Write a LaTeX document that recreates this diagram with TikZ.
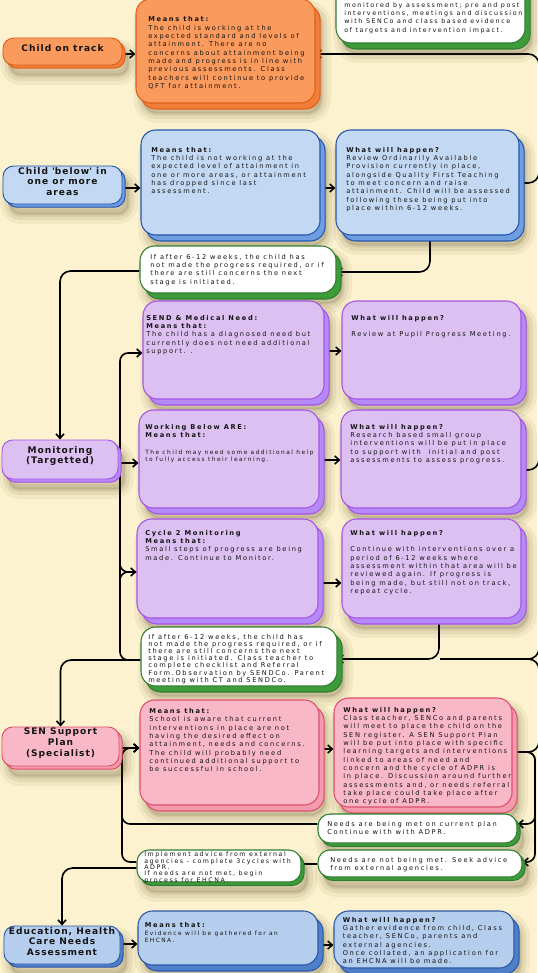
\documentclass[tikz,border=0pt]{standalone}
\usepackage{fontspec}
\usepackage{tikz}
\usetikzlibrary{fit,shadows,arrows.meta}
\newfontfamily\bodyfont[LetterSpace=25]{DejaVu Sans}
\newfontfamily\headfont[LetterSpace=11]{DejaVu Sans}
\newcommand\smalltext{\fontsize{4.4}{5.4}\selectfont}
\definecolor{paper}{HTML}{FCF2CF}
\definecolor{ink}{HTML}{141414}
\definecolor{orfill}{HTML}{FB9A5D}
\definecolor{orline}{HTML}{E0601A}
\definecolor{ordeep}{HTML}{F07E38}
\definecolor{blfill}{HTML}{C3D8F3}
\definecolor{blline}{HTML}{2455AC}
\definecolor{bldeep}{HTML}{6E9DE2}
\definecolor{pufill}{HTML}{DDC0F2}
\definecolor{puline}{HTML}{A552E6}
\definecolor{pudeep}{HTML}{B48AF8}
\definecolor{pkfill}{HTML}{F8B8C8}
\definecolor{pkline}{HTML}{DC4F6C}
\definecolor{pkdeep}{HTML}{F39AAD}
\definecolor{bbfill}{HTML}{B6CEED}
\definecolor{bbline}{HTML}{2A57A6}
\definecolor{bbdeep}{HTML}{4F7FC9}
\definecolor{ntline}{HTML}{2F7D2F}
\definecolor{ntdeep}{HTML}{3D9B3A}
\definecolor{dusk}{HTML}{4A3A10}
\pgfdeclarelayer{back}
\pgfdeclarelayer{wires}
\pgfsetlayers{back,wires,main}

\begin{document}
\begin{tikzpicture}[x=0.75pt,y=-0.75pt,line join=round,
  soft/.style={
    general shadow={shadow xshift=5pt, shadow yshift=-8pt, draw=dusk, fill=dusk, line width=14pt, draw opacity=.06, fill opacity=.15},
    general shadow={shadow xshift=5pt, shadow yshift=-8pt, draw=dusk, line width=8pt, draw opacity=.08},
    general shadow={shadow xshift=5pt, shadow yshift=-8pt, draw=dusk, line width=3pt, draw opacity=.09}},
  bigbox/.style n args={3}{inner sep=0pt, rounded corners=11pt, line width=0.8pt, fill=#1, draw=#2, soft,
    copy shadow={shadow xshift=3.8pt, shadow yshift=-4.5pt, fill=#3, draw=#2, opacity=1}},
  tagbox/.style n args={3}{inner sep=0pt, rounded corners=8pt, line width=0.7pt, fill=#1, draw=#2, soft,
    copy shadow={shadow xshift=2.3pt, shadow yshift=-2.4pt, fill=#3, draw=#2, opacity=1},
    text=ink, align=center, font={\headfont\bfseries\fontsize{6.8}{8}\selectfont}},
  notebox/.style={inner sep=0pt, rounded corners=11pt, line width=0.8pt, fill=white, draw=ntline, soft,
    copy shadow={shadow xshift=3.8pt, shadow yshift=-4.5pt, fill=ntdeep, draw=ntline, opacity=1}},
  slipbox/.style={inner sep=0pt, rounded corners=9pt, line width=0.8pt, fill=white, draw=ntline, soft,
    copy shadow={shadow xshift=2.3pt, shadow yshift=-2.6pt, fill=ntdeep, draw=ntline, opacity=1}},
  txt/.style={anchor=north west, inner sep=0pt, align=left, text=ink, font={\bodyfont\fontsize{5}{6.25}\selectfont}},
  wire/.style={line width=1.2pt},
  arr/.style={line width=1.2pt, -{Straight Barb[length=3.4pt,width=6pt]}}]
\useasboundingbox (0,0) rectangle (537,973);
\begin{pgfonlayer}{back}
\fill[paper] (0,0) rectangle (537,973);
\end{pgfonlayer}

% Rounded Rect
\node[notebox, fit={(336,-30) (525,43)}] (oldnote) {};
\node[tagbox={orfill}{orline}{ordeep}, fit={(3,38) (122,65)}] (ontrack) {Child on track};
\node[bigbox={orfill}{orline}{ordeep}, fit={(136,-1) (315,103)}] (ontrackwhy) {};
% Rounded Rect
\node[tagbox={blfill}{blline}{bldeep}, fit={(3,166) (122,204)}] (below) {Child \textquotesingle below\textquotesingle\ in\\one or more\\areas};
\node[bigbox={blfill}{blline}{bldeep}, fit={(141,130) (320,235)}] (belowwhy) {};
\node[bigbox={blfill}{blline}{bldeep}, fit={(336,130) (519,235)}] (belowdo) {};
\node[notebox, fit={(140,246) (336,293)}] (review1) {};
% Rounded Rect
\node[tagbox={pufill}{puline}{pudeep}, fit={(2,440) (118,479)}] (monitor) {Monitoring\\(Targetted)};
\node[bigbox={pufill}{puline}{pudeep}, fit={(143,301) (324,399)}] (sendwhy) {};
\node[bigbox={pufill}{puline}{pudeep}, fit={(342,301) (521,399)}] (senddo) {};
\node[bigbox={pufill}{puline}{pudeep}, fit={(139,410) (319,508)}] (arewhy) {};
\node[bigbox={pufill}{puline}{pudeep}, fit={(341,410) (521,508)}] (aredo) {};
\node[bigbox={pufill}{puline}{pudeep}, fit={(137,519) (318,618)}] (cyclewhy) {};
\node[bigbox={pufill}{puline}{pudeep}, fit={(342,519) (521,618)}] (cycledo) {};
\node[notebox, fit={(141,627) (337,686)}] (review2) {};
% Rounded Rect
\node[tagbox={pkfill}{pkline}{pkdeep}, fit={(2,727) (119,766)}] (senplan) {SEN Support\\Plan\\(Specialist)};
\node[bigbox={pkfill}{pkline}{pkdeep}, fit={(140,700) (319,805)}] (planwhy) {};
\node[bigbox={pkfill}{pkline}{pkdeep}, fit={(334,698) (512,807)}] (plando) {};
\node[slipbox, fit={(318,814) (517,843)}] (metnote) {};
\node[slipbox, fit={(318,850) (522,877)}] (unmetnote) {};
\node[slipbox, fit={(137,850) (301,882)}] (advicenote) {};
% Rounded Rect
\node[tagbox={bbfill}{bbline}{bbdeep}, fit={(4,926) (120,964)}] (ehcna) {Education, Health\\Care Needs\\Assessment};
\node[bigbox={bbfill}{bbline}{bbdeep}, fit={(138,911) (318,965)}] (ehcnawhy) {};
\node[bigbox={bbfill}{bbline}{bbdeep}, fit={(334,911) (514,968)}] (ehcnado) {};

% Text Node
\node[txt, font={\bodyfont\fontsize{4.75}{6.25}\selectfont}] (oldnotetxt) at (344,2) {monitored by assessment; pre and post\\interventions, meetings and discussion\\with SENCo and class based evidence\\of targets and intervention impact.};
% Text Node
\node[txt] (ontrackwhytxt) at (148,16.5) {\textbf{Means that:}\\The child is working at the\\expected standard and levels of\\attainment. There are no\\concerns about attainment being\\made and progress is in line with\\previous assessments. Class\\teachers will continue to provide\\QFT for attainment.};
% Text Node
\node[txt] (belowwhytxt) at (151,146.8) {\textbf{Means that:}\\The child is not working at the\\expected level of attainment in\\one or more areas, or attainment\\has dropped since last\\assessment.};
% Text Node
\node[txt] (belowdotxt) at (346,146.8) {\textbf{What will happen?}\\Review Ordinarily Available\\Provision currently in place,\\alongside Quality First Teaching\\to meet concern and raise\\attainment. Child will be assessed\\following these being put into\\place within 6-12 weeks.};
% Text Node
\node[txt] (review1txt) at (150,253.7) {If after 6-12 weeks, the child has\\not made the progress required, or if\\there are still concerns the next\\stage is initiated.};
% Text Node
\node[txt] (sendwhytxt) at (146,314.7) {\textbf{SEND \& Medical Need:}\\\textbf{Means that:}\\The child has a diagnosed need but\\currently does not need additional\\support. .};
% Text Node
\node[txt] (senddotxt) at (351,314.7) {\textbf{What will happen?}\\[6.25pt]Review at Pupil Progress Meeting.};
% Text Node
\node[txt] (arewhytxt) at (145,423.7) {\textbf{Working Below ARE:}\\\textbf{Means that:}\\[6.25pt]{\smalltext The child may need some additional help}\\[-1pt]{\smalltext to fully access their learning.}};
% Text Node
\node[txt] (aredotxt) at (350,423.7) {\textbf{What will happen?}\\Research based small group\\interventions will be put in place\\to support with\ \ initial and post\\assessments to assess progress.};
% Text Node
\node[txt] (cyclewhytxt) at (145,529.7) {\textbf{Cycle 2 Monitoring}\\\textbf{Means that:}\\Small steps of progress are being\\made. Continue to Monitor.};
% Text Node
\node[txt] (cycledotxt) at (350,529.7) {\textbf{What will happen?}\\[6.25pt]Continue with interventions over a\\period of 6-12 weeks where\\assessment within that area will be\\reviewed again. If progress is\\being made, but still not on track,\\repeat cycle.};
% Text Node
\node[txt, font={\bodyfont\fontsize{5}{5.4}\selectfont}] (review2txt) at (148,633.7) {If after 6-12 weeks, the child has\\not made the progress required, or if\\there are still concerns the next\\stage is initiated. Class teacher to\\complete checklist and Referral\\Form.Observation by SENDCo. Parent\\meeting with CT and SENDCo.};
% Text Node
\node[txt] (planwhytxt) at (149,708.2) {\textbf{Means that:}\\School is aware that current\\interventions in place are not\\having the desired effect on\\attainment, needs and concerns.\\The child will probably need\\continued additional support to\\be successful in school.};
% Text Node
\node[txt] (plandotxt) at (343,706.7) {\textbf{What will happen?}\\Class teacher, SENCo and parents\\will meet to place the child on the\\SEN register. A SEN Support Plan\\will be put into place with specific\\learning targets and interventions\\linked to areas of need and\\concern and the cycle of ADPR is\\in place. Discussion around further\\assessments and, or needs referral\\take place could take place after\\one cycle of ADPR.};
% Text Node
\node[txt] (metnotetxt) at (327,820.7) {Needs are being met on current plan\\Continue with with ADPR.};
% Text Node
\node[txt] (unmetnotetxt) at (330,856.7) {Needs are not being met. Seek advice\\from external agencies.};
% Text Node
\node[txt, font={\bodyfont\fontsize{4.7}{4.8}\selectfont}] (advicenotetxt) at (144,851.7) {Implement advice from external\\agencies - complete 3cycles with\\ADPR.\\If needs are not met, begin\\process for EHCNA.};
% Text Node
\node[txt] (ehcnawhytxt) at (144.5,922.2) {\textbf{Means that:}\\[-0.5pt]{\smalltext Evidence will be gathered for an}\\[-1pt]{\smalltext EHCNA.}};
% Text Node
\node[txt] (ehcnadotxt) at (342.5,916.7) {\textbf{What will happen?}\\Gather evidence from child, Class\\teacher, SENCo, parents and\\external agencies.\\Once collated, an application for\\an EHCNA will be made.};

\begin{pgfonlayer}{wires}
%Straight Lines
\draw[arr] (ontrack.east |- 0,54) -- (ontrackwhy.west |- 0,54);
\draw[arr, rounded corners=8pt] (belowdo.east |- 0,183) -- (539,183) -- (539,54) -- (ontrackwhy.east |- 0,54);
\draw[arr] (below.east |- 0,188) -- (belowwhy.west |- 0,188);
\draw[arr] (belowwhy.east |- 0,188) -- (belowdo.west |- 0,188);
\draw[arr, rounded corners=8pt] (belowdo.south -| 430,0) -- (430,272) -- (review1.east |- 0,272);
\draw[arr, rounded corners=8pt] (review1.west |- 0,271) -- (monitor.north |- 0,271) -- (monitor.north);
%Straight Lines
\draw[arr, rounded corners=6pt] (review2.west |- 0,660) -- (120,660) -- (120,353) -- (sendwhy.west |- 0,353);
\draw[arr] (monitor.east |- 0,463) -- (arewhy.west |- 0,463);
\draw[arr, rounded corners=6pt] (120,600) -- (120,572) -- (cyclewhy.west |- 0,572);
\draw[wire, rounded corners=6pt] (120,545) -- (120,572) -- (cyclewhy.west |- 0,572);
\draw[arr] (sendwhy.east |- 0,351) -- (senddo.west |- 0,351);
\draw[arr] (arewhy.east |- 0,460) -- (aredo.west |- 0,460);
\draw[arr] (cyclewhy.east |- 0,583) -- (cycledo.west |- 0,583);
\draw[wire, rounded corners=8pt] (aredo.east |- 0,470) -- (539,470) -- (539,190);
\draw[arr, rounded corners=8pt] (cycledo.south -| 439,0) -- (439,659) -- (review2.east |- 0,659);
\draw[wire, rounded corners=8pt] (539,560) -- (539,659) -- (440,659);
\draw[wire, rounded corners=8pt] (plando.east |- 0,752) -- (539,752) -- (539,659) -- (440,659);
%Straight Lines
\draw[arr, rounded corners=8pt] (review2.west |- 0,660) -- (senplan.north |- 0,660) -- (senplan.north);
\draw[arr] (senplan.east |- 0,748) -- (planwhy.west |- 0,748);
\draw[arr] (planwhy.east |- 0,749) -- (plando.west |- 0,749);
\draw[arr, rounded corners=6pt] (plando.east |- 0,752) -- (535,752) -- (535,824) -- (metnote.east |- 0,824);
\draw[arr, rounded corners=6pt] (plando.east |- 0,752) -- (535,752) -- (535,862) -- (unmetnote.east |- 0,862);
\draw[arr, rounded corners=6pt] (metnote.west |- 0,824) -- (122,824) -- (122,748) -- (planwhy.west |- 0,748);
\draw[arr, rounded corners=6pt] (advicenote.west |- 0,862) -- (122,862) -- (122,748) -- (planwhy.west |- 0,748);
\draw[wire] (unmetnote.west |- 0,864) -- (advicenote.east |- 0,864);
%Straight Lines
\draw[arr, rounded corners=8pt] (advicenote.west |- 0,868) -- (ehcna.north |- 0,868) -- (ehcna.north);
\draw[arr] (ehcna.east |- 0,944) -- (ehcnawhy.west |- 0,944);
\draw[arr] (ehcnawhy.east |- 0,945) -- (ehcnado.west |- 0,945);
\end{pgfonlayer}

\end{tikzpicture}
\end{document}
